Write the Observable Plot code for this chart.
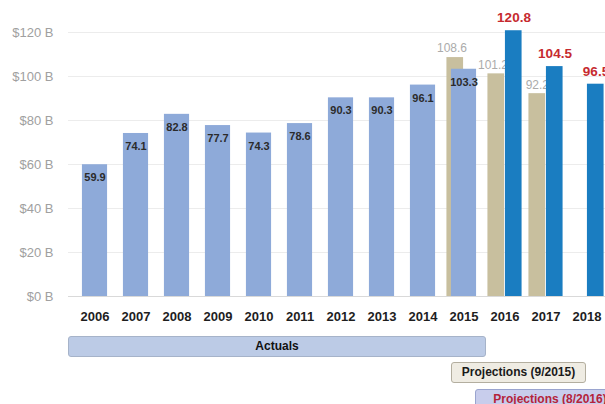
<!DOCTYPE html>
<html>
<head>
<meta charset="utf-8">
<script src="https://cdn.jsdelivr.net/npm/d3@7"></script>
<script src="https://cdn.jsdelivr.net/npm/@observablehq/plot@0.6"></script>
<style>
  html, body { margin: 0; padding: 0; background: #fff; overflow: hidden; }
  #wrap { position: relative; width: 605px; height: 404px; overflow: hidden; font-family: "Liberation Sans", Arial, sans-serif; }
  .box { position: absolute; box-sizing: border-box; height: 21px; line-height: 19px; font-weight: bold; font-size: 12px; text-align: center; border-radius: 3px; white-space: nowrap; overflow: hidden; }
</style>
</head>
<body>
<div id="wrap"></div>
<script>
const years = ["2006","2007","2008","2009","2010","2011","2012","2013","2014","2015","2016","2017","2018"];
const actualYears = ["2006","2007","2008","2009","2010","2011","2012","2013","2014","2015"];
const actualValues = [59.9, 74.1, 82.8, 77.7, 74.3, 78.6, 90.3, 90.3, 96.1, 103.3];
const proj2015Years = ["2015","2016","2017"];
const proj2015Values = [108.6, 101.2, 92.2];
const proj2016Years = ["2016","2017","2018"];
const proj2016Values = [120.8, 104.5, 96.5];
const yTicks = [0, 20, 40, 60, 80, 100, 120];
const boxLabels = ["Actuals", "Projections (9/2015)", "Projections (8/2016)"];

const actual = actualYears.map((y, i) => ({year: y, value: actualValues[i]}));
const p15 = proj2015Years.map((y, i) => ({year: y, value: proj2015Values[i]}));
const p16 = proj2016Years.map((y, i) => ({year: y, value: proj2016Values[i]}));

const step = 41.85;
const half = step / 2;
const x0 = 89.6 - half;

const chart = Plot.plot({
  width: 605,
  height: 330,
  marginLeft: 68,
  marginRight: 0,
  marginTop: 0,
  marginBottom: 34,
  style: {fontFamily: "'Liberation Sans', Arial, sans-serif", background: "transparent"},
  x: {type: "band", domain: years, range: [x0, x0 + step * years.length], padding: 0, label: null},
  y: {domain: [0, 120], range: [296, 32], label: null},
  marks: [
    Plot.ruleY(yTicks.filter(d => d > 0), {stroke: "#ececec", strokeWidth: 1}),
    Plot.ruleY([0], {stroke: "#d9d9d9", strokeWidth: 1}),
    Plot.axisY({ticks: yTicks, tickSize: 0, tickPadding: 15, tickFormat: d => `$${d} B`, fontSize: 13, color: "#a0a0a0", label: null}),
    Plot.axisX({tickSize: 0, tickPadding: 15, fontSize: 13, fontWeight: "bold", color: "#1e1e1e", label: null}),
    Plot.barY(p15, {x: "year", y: "value", fill: "#c8bf9e", insetLeft: half - 17.5, insetRight: half}),
    Plot.text(p15, {x: "year", y: "value", text: d => d.value.toFixed(1), textAnchor: "end", dx: 3, dy: -9, fill: "#ababab", fontSize: 12}),
    Plot.barY(actual, {x: "year", y: "value", fill: "#8eaad9", insetLeft: half - 13, insetRight: half - 13}),
    Plot.text(actual, {x: "year", y: "value", text: d => d.value.toFixed(1), dy: 13, fill: "#2b2b2b", fontSize: 11, fontWeight: "bold"}),
    Plot.barY(p16, {x: "year", y: "value", fill: "#1a7dc1", insetLeft: half, insetRight: half - 17.5}),
    Plot.text(p16, {x: "year", y: "value", text: d => d.value.toFixed(1), dx: 9, dy: -13, fill: "#c62a2f", fontSize: 13.5, fontWeight: "bold"})
  ]
});

const wrap = document.getElementById("wrap");
wrap.appendChild(chart);

const boxes = [
  {text: boxLabels[0], left: 68, top: 336, width: 418, bg: "#bccbe6", border: "#a6b3c9", color: "#111"},
  {text: boxLabels[1], left: 451, top: 362, width: 135, bg: "#efece3", border: "#b3ae9f", color: "#1a1a1a"},
  {text: boxLabels[2], left: 475, top: 389, width: 150, bg: "#c8cdec", border: "#9aa4cf", color: "#b4233a"}
];
for (const b of boxes) {
  const el = document.createElement("div");
  el.className = "box";
  el.textContent = b.text;
  Object.assign(el.style, {left: b.left + "px", top: b.top + "px", width: b.width + "px", background: b.bg, border: `1px solid ${b.border}`, color: b.color});
  wrap.appendChild(el);
}
</script>
</body>
</html>
